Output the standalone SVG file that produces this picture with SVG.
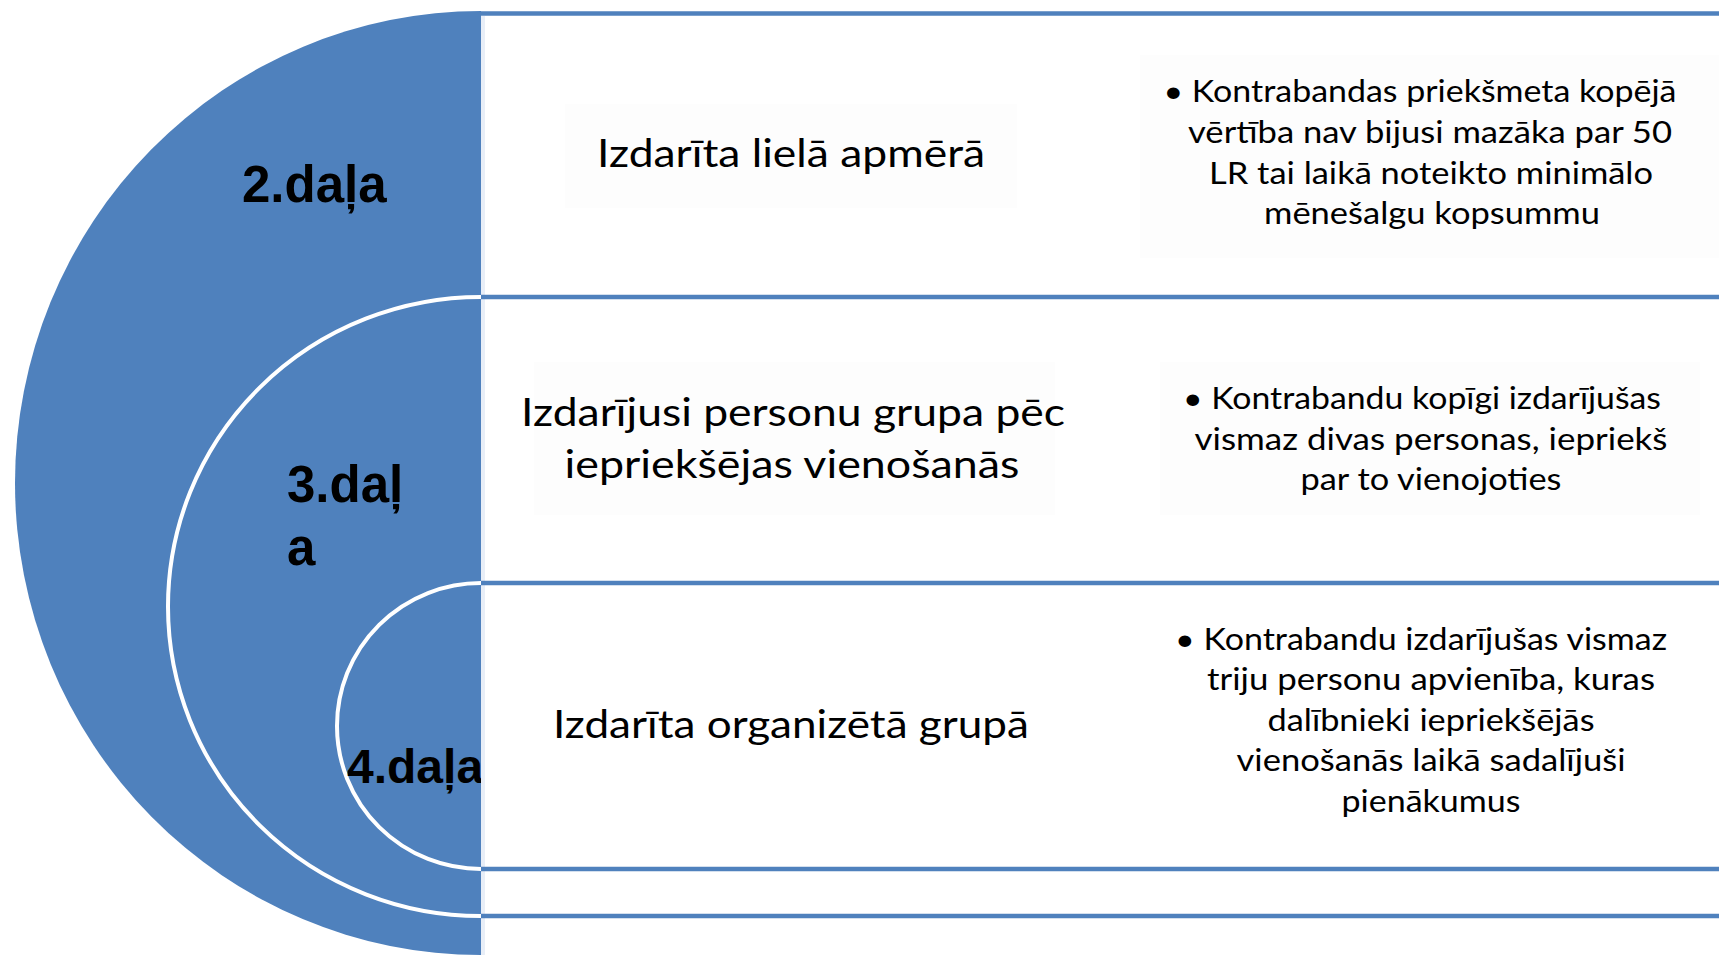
<svg xmlns="http://www.w3.org/2000/svg" width="1719" height="958" viewBox="0 0 1719 958">
<style>
.lbl{font-family:"Liberation Sans",Arial,sans-serif;font-weight:bold;fill:#000}
.t{font-family:Lato,"Open Sans","Noto Sans",sans-serif;fill:#000}
.big{font-size:39px}
.sm{font-size:31px}
.sep{stroke:#4F81BD;stroke-width:4.5;fill:none}
.arc{stroke:#fff;stroke-width:4;fill:none}
.bg{fill:#fdfdfd}
</style>
<defs>
<clipPath id="clipL"><rect x="0" y="0" width="481" height="958"/></clipPath>
</defs>
<rect width="1719" height="958" fill="#fff"/>
<g id="shape">
<path d="M481 11 A466 472 0 0 0 481 955 Z" fill="#4F81BD"/>
<rect x="481" y="16" width="4" height="939" fill="#e8eef7"/>
<path class="arc" d="M481 297 A313 309.5 0 0 0 481 916"/>
<path class="arc" d="M481 583 A144 143 0 0 0 481 869"/>
</g>
<g id="part2">
<text class="lbl" x="242" y="202" font-size="51">2.daļa</text>
</g>
<g id="part3">
<text class="lbl" x="287" y="502" font-size="51">3.daļ</text>
<text class="lbl" x="287" y="565" font-size="51">a</text>
</g>
<g id="part4" clip-path="url(#clipL)">
<text class="lbl" x="347" y="783" font-size="48">4.daļa</text>
</g>
<g id="row1">
<rect class="bg" x="565" y="104" width="452" height="104"/>
<text class="t big" x="791" y="167" text-anchor="middle" textLength="388" lengthAdjust="spacingAndGlyphs">Izdarīta lielā apmērā</text>
<rect class="bg" x="1140" y="55" width="579" height="203"/>
<text class="t sm" x="1420" y="102" text-anchor="middle" textLength="513" lengthAdjust="spacingAndGlyphs">• Kontrabandas priekšmeta kopējā</text>
<text class="t sm" x="1430" y="143" text-anchor="middle" textLength="484" lengthAdjust="spacingAndGlyphs">vērtība nav bijusi mazāka par 50</text>
<text class="t sm" x="1431" y="184" text-anchor="middle" textLength="444" lengthAdjust="spacingAndGlyphs">LR tai laikā noteikto minimālo</text>
<text class="t sm" x="1432" y="224" text-anchor="middle" textLength="336" lengthAdjust="spacingAndGlyphs">mēnešalgu kopsummu</text>
</g>
<g id="row2">
<rect class="bg" x="534" y="362" width="521" height="153"/>
<text class="t big" x="793" y="426" text-anchor="middle" textLength="544" lengthAdjust="spacingAndGlyphs">Izdarījusi personu grupa pēc</text>
<text class="t big" x="792" y="478" text-anchor="middle" textLength="455" lengthAdjust="spacingAndGlyphs">iepriekšējas vienošanās</text>
<rect class="bg" x="1160" y="362" width="540" height="153"/>
<text class="t sm" x="1422" y="409" text-anchor="middle" textLength="478" lengthAdjust="spacingAndGlyphs">• Kontrabandu kopīgi izdarījušas</text>
<text class="t sm" x="1431" y="450" text-anchor="middle" textLength="473" lengthAdjust="spacingAndGlyphs">vismaz  divas personas, iepriekš</text>
<text class="t sm" x="1431" y="490" text-anchor="middle" textLength="261" lengthAdjust="spacingAndGlyphs">par to vienojoties</text>
</g>
<g id="row3">
<text class="t big" x="791" y="738" text-anchor="middle" textLength="476" lengthAdjust="spacingAndGlyphs">Izdarīta organizētā grupā</text>
<text class="t sm" x="1421" y="650" text-anchor="middle" textLength="492" lengthAdjust="spacingAndGlyphs">• Kontrabandu izdarījušas vismaz</text>
<text class="t sm" x="1431" y="690" text-anchor="middle" textLength="448" lengthAdjust="spacingAndGlyphs">triju personu apvienība, kuras</text>
<text class="t sm" x="1431" y="731" text-anchor="middle" textLength="327" lengthAdjust="spacingAndGlyphs">dalībnieki iepriekšējās</text>
<text class="t sm" x="1431" y="771" text-anchor="middle" textLength="389" lengthAdjust="spacingAndGlyphs">vienošanās laikā sadalījuši</text>
<text class="t sm" x="1431" y="812" text-anchor="middle" textLength="179" lengthAdjust="spacingAndGlyphs">pienākumus</text>
</g>
<g id="connectors">
<line class="sep" x1="481" y1="13.5" x2="1719" y2="13.5"/>
<line class="sep" x1="481" y1="297" x2="1719" y2="297"/>
<line class="sep" x1="481" y1="583" x2="1719" y2="583"/>
<line class="sep" x1="481" y1="869" x2="1719" y2="869"/>
<line class="sep" x1="481" y1="916" x2="1719" y2="916"/>
</g>
</svg>
